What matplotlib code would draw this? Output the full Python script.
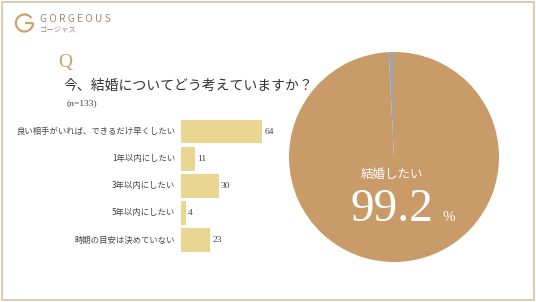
import matplotlib
matplotlib.use("Agg")
import matplotlib.pyplot as plt
from matplotlib.patches import Arc, Rectangle

plt.rcParams['font.family'] = ['Noto Sans CJK JP', 'DejaVu Sans']

# データ
categories = ['良い相手がいれば、できるだけ早くしたい', '1年以内にしたい', '3年以内にしたい',
              '5年以内にしたい', '時期の目安は決めていない']
values = [64, 11, 30, 4, 23]
pie_labels = ['その他', '結婚したい']
pie_values = [0.8, 99.2]

W, H = 536, 302
fig = plt.figure(figsize=(W / 100, H / 100), dpi=100)
fig.patch.set_facecolor('white')

def box(x, y, w, h):
    # pixel box (top-left origin) -> figure fraction
    return [x / W, 1 - (y + h) / H, w / W, h / H]

# 背景（枠、ロゴ、テキスト）
bg = fig.add_axes([0, 0, 1, 1])
bg.set_xlim(0, W)
bg.set_ylim(H, 0)
bg.axis('off')
bg.add_patch(Rectangle((1.5, 1.5), W - 4, H - 4, fill=False, ec='#D9C3A3', lw=1.2))

gold = '#C9A46E'
bg.add_patch(Arc((24.5, 23), 17, 17, theta1=0, theta2=325, color=gold, lw=1.6))
bg.plot([24.5, 33], [23, 23], color=gold, lw=1.6, solid_capstyle='butt')
bg.text(40, 19.5, 'G O R G E O U S', fontsize=7.3, color='#9C8C7A', va='center', ha='left')
bg.text(40, 30.5, 'ゴージャス', fontsize=5.3, color='#9C8C7A', va='center', ha='left')

bg.text(58, 62, 'Q', fontsize=14, color=gold, family='Liberation Serif', va='center', ha='left')
bg.text(63, 86, '今、結婚についてどう考えていますか？', fontsize=10, color='#333333',
        va='center', ha='left')
bg.text(67, 103, '(n=133)', fontsize=6.8, color='#444444', family='Liberation Serif',
        va='center', ha='left')

# 棒グラフ
ax = fig.add_axes(box(181, 118.1, 100, 135.5))
ypos = list(range(len(categories)))
ax.barh(ypos, values, height=0.87, color='#E9D690')
ax.set_xlim(0, 100 / 1.27)
ax.set_ylim(len(categories) - 0.5, -0.5)
ax.axis('off')
for y, v, c in zip(ypos, values, categories):
    ax.text(v + 1.5, y, str(v), fontsize=6.8, family='Liberation Serif', color='#444444',
            va='center', ha='left')
    ax.text(-4.5, y, c, fontsize=6, color='#444444', va='center', ha='right')

# 円グラフ
pax = fig.add_axes(box(289, 52, 210, 210))
pax.pie(pie_values, colors=['#A3A3A3', '#C99B69'], startangle=90, counterclock=True,
        radius=1, wedgeprops=dict(linewidth=0))
pax.set_xlim(-1, 1)
pax.set_ylim(-1, 1)
pax.set_aspect('equal')
pax.text(-0.02, -0.17, pie_labels[1], fontsize=9, color='white', ha='center', va='center')
pax.text(-0.02, -0.50, f'{pie_values[1]:.1f}', fontsize=34, color='white',
         family='Liberation Serif', ha='center', va='center')
pax.text(0.52, -0.58, '%', fontsize=11, color='white', family='Liberation Serif',
         ha='center', va='center')

fig.savefig('out.png', dpi=100)
